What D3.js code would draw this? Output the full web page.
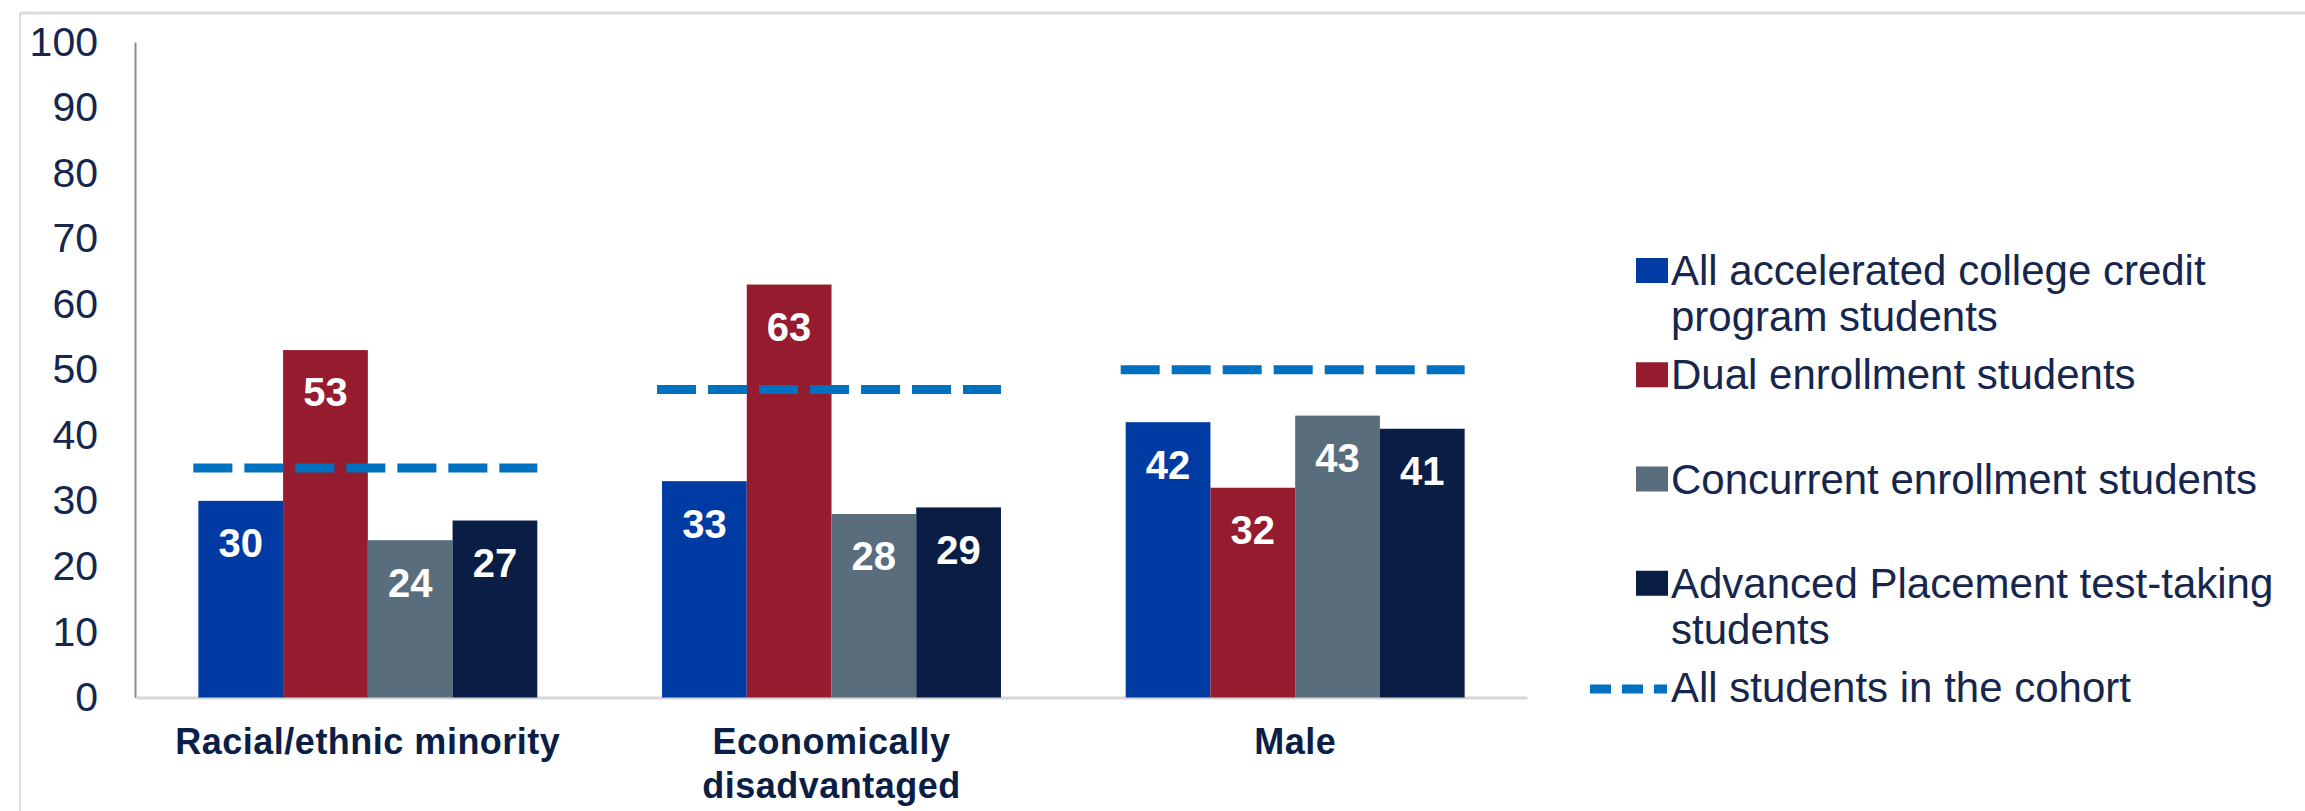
<!DOCTYPE html>
<html>
<head>
<meta charset="utf-8">
<script src="https://cdn.jsdelivr.net/npm/d3@7"></script>
<style>
  html, body { margin: 0; padding: 0; background: #ffffff; }
  svg { display: block; }
  text { font-family: "Liberation Sans", Arial, sans-serif; }
</style>
</head>
<body>
<svg id="chart" width="2305" height="811"></svg>
<script>
// Student groups on the x axis
const categories = ["Racial/ethnic minority", "Economically disadvantaged", "Male"];

// Series names, in legend order
const seriesNames = [
  "All accelerated college credit program students",
  "Dual enrollment students",
  "Concurrent enrollment students",
  "Advanced Placement test-taking students"
];
const cohortName = "All students in the cohort";

// Percent of each program's students in the group
const allAccelerated       = [30, 33, 42];
const dualEnrollment       = [53, 63, 32];
const concurrentEnrollment = [24, 28, 43];
const apTestTaking         = [27, 29, 41];

// Percent of all students in the cohort (dashed reference line)
const allStudentsCohort    = [35, 47, 50];

// Y axis ticks
const yTicks = [0, 10, 20, 30, 40, 50, 60, 70, 80, 90, 100];

const seriesValues = [allAccelerated, dualEnrollment, concurrentEnrollment, apTestTaking];
const seriesColors = ["#003BA4", "#951B2E", "#5A6D7D", "#091D45"];
const cohortColor = "#0070C0";
const textColor = "#16264C";

const svg = d3.select("#chart");

// Thin frame along the top and left edges
svg.append("line").attr("x1", 20).attr("x2", 2305).attr("y1", 13).attr("y2", 13)
  .attr("stroke", "#dcdcdc").attr("stroke-width", 3);
svg.append("line").attr("x1", 20).attr("x2", 20).attr("y1", 13).attr("y2", 811)
  .attr("stroke", "#dcdcdc").attr("stroke-width", 2);

const y = d3.scaleLinear().domain([0, 100]).range([697.5, 42]);
const x = d3.scaleBand().domain(categories).range([136, 1527]).paddingInner(0.269).paddingOuter(0.1345);
const xs = d3.scaleBand().domain(d3.range(seriesNames.length)).range([0, x.bandwidth()]).padding(0);

// Y axis
const yAxis = svg.append("g")
  .attr("transform", "translate(135,0)")
  .call(d3.axisLeft(y).tickValues(yTicks).tickSize(0).tickPadding(37).tickFormat(d3.format("d")));
yAxis.select(".domain").attr("stroke", "#8c8c8c").attr("stroke-width", 2);
yAxis.selectAll("text")
  .attr("font-size", 41).attr("fill", textColor)
  .attr("font-family", "'Liberation Sans', Arial, sans-serif");

// X axis baseline and category labels
const xAxis = svg.append("g")
  .attr("transform", `translate(0,${y(0)})`)
  .call(d3.axisBottom(x).tickSize(0).tickSizeOuter(0).tickPadding(0));
xAxis.select(".domain").attr("stroke", "#d6d6d6").attr("stroke-width", 3);
xAxis.selectAll(".tick text")
  .attr("font-size", 36).attr("font-weight", "bold").attr("fill", "#0B1E46")
  .attr("letter-spacing", "0.5px")
  .attr("font-family", "'Liberation Sans', Arial, sans-serif")
  .attr("y", 0).attr("dy", null)
  .each(function (d) {
    wrapText(d3.select(this), d, 420, 44, 44);
  });

// Bars
const groups = svg.append("g").selectAll("g")
  .data(categories)
  .join("g")
  .attr("transform", d => `translate(${x(d)},0)`);

groups.selectAll("rect")
  .data((c, ci) => seriesValues.map((vals, si) => ({ si, v: vals[ci] })))
  .join("rect")
  .attr("x", d => xs(d.si))
  .attr("width", xs.bandwidth())
  .attr("y", d => y(d.v))
  .attr("height", d => y(0) - y(d.v))
  .attr("fill", d => seriesColors[d.si]);

// Dashed cohort line across each group
svg.append("g").selectAll("line")
  .data(categories.map((c, i) => ({ c, v: allStudentsCohort[i] })))
  .join("line")
  .attr("x1", d => x(d.c) - 5)
  .attr("x2", d => x(d.c) + x.bandwidth())
  .attr("y1", d => y(d.v))
  .attr("y2", d => y(d.v))
  .attr("stroke", cohortColor)
  .attr("stroke-width", 9)
  .attr("stroke-dasharray", "39,12");

// Value labels inside the top of each bar
groups.selectAll("text.value")
  .data((c, ci) => seriesValues.map((vals, si) => ({ si, v: vals[ci] })))
  .join("text")
  .attr("class", "value")
  .attr("x", d => xs(d.si) + xs.bandwidth() / 2)
  .attr("y", d => y(d.v) + 42)
  .attr("dy", "0.36em")
  .attr("text-anchor", "middle")
  .attr("font-size", 40)
  .attr("font-weight", "bold")
  .attr("fill", "#ffffff")
  .text(d => d.v);

// Legend
const legend = svg.append("g");
const legendRowY = d3.scaleLinear().domain([0, 4]).range([270, 687]);
seriesNames.forEach((name, i) => {
  const cy = legendRowY(i);
  legend.append("rect")
    .attr("x", 1636).attr("y", cy - 12).attr("width", 32).attr("height", 25)
    .attr("fill", seriesColors[i]);
  const t = legend.append("text")
    .attr("x", 1671).attr("y", cy)
    .attr("font-size", 42).attr("fill", textColor);
  wrapText(t, name, 640, 46, 0);
});
{
  const cy = legendRowY(4);
  legend.append("line")
    .attr("x1", 1590).attr("x2", 1667).attr("y1", cy + 2).attr("y2", cy + 2)
    .attr("stroke", cohortColor).attr("stroke-width", 9)
    .attr("stroke-dasharray", "21,11");
  legend.append("text")
    .attr("x", 1671).attr("y", cy).attr("dy", "0.36em")
    .attr("font-size", 42).attr("fill", textColor)
    .text(cohortName);
}

// Break a text element into tspans no wider than maxWidth
function wrapText(sel, str, maxWidth, lineHeight, firstOffset) {
  const words = str.split(/\s+/);
  const xAttr = sel.attr("x") || 0;
  sel.text(null);
  let line = [];
  let tspan = sel.append("tspan").attr("x", xAttr).attr("dy", 0);
  words.forEach(w => {
    line.push(w);
    tspan.text(line.join(" "));
    if (tspan.node().getComputedTextLength() > maxWidth && line.length > 1) {
      line.pop();
      tspan.text(line.join(" "));
      line = [w];
      tspan = sel.append("tspan").attr("x", xAttr).text(w);
    }
  });
  sel.selectAll("tspan").each(function (_, i) {
    d3.select(this).attr("dy", i === 0 ? (firstOffset + 0.36 * +sel.attr("font-size")) + "px" : lineHeight + "px");
  });
}
</script>
</body>
</html>
